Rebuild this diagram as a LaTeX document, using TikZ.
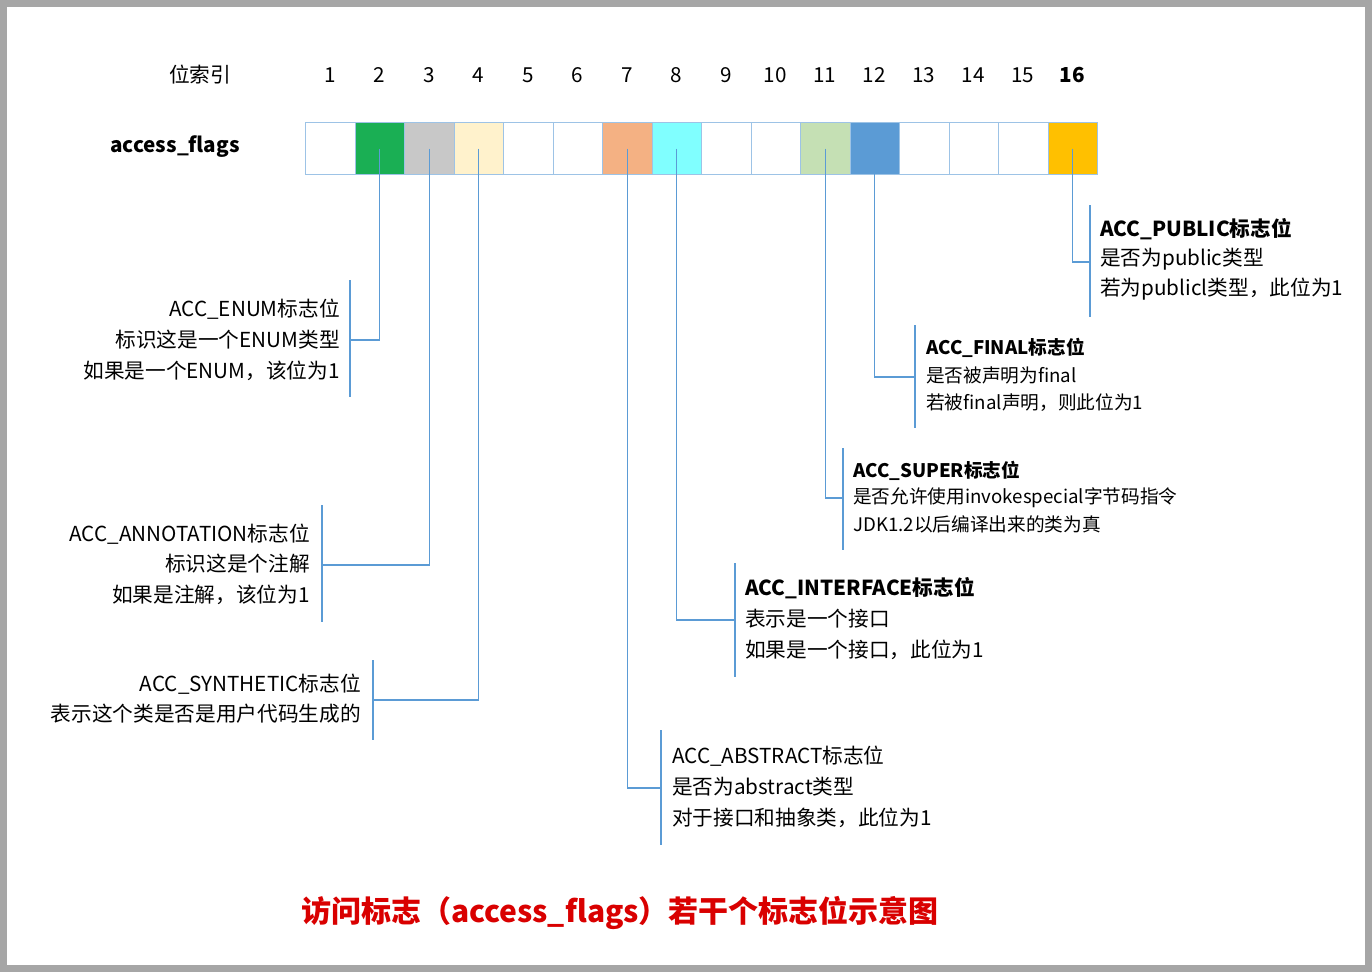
\documentclass[tikz,border=0pt]{standalone}
\usepackage{fontspec}
\setmainfont{Noto Sans CJK SC}
\definecolor{ln}{HTML}{5B9BD5}
\definecolor{cb}{HTML}{9DC3E6}
\begin{document}
\begin{tikzpicture}[x=0.75pt,y=-0.75pt,
  cell/.style={draw=cb,line width=0.8pt,minimum width=49.5*0.75pt,minimum height=52*0.75pt,inner sep=0pt,anchor=north west},
  lbl/.style={font=\fontsize{15.5}{16}\selectfont,inner sep=0pt},
  lblb/.style={font=\fontsize{15.5}{16}\selectfont\bfseries,inner sep=0pt},
  sm/.style={font=\fontsize{14}{15}\selectfont,inner sep=0pt},
  smb/.style={font=\fontsize{14}{15}\selectfont\bfseries,inner sep=0pt},
  conn/.style={draw=ln,line width=1pt}]
\fill[gray!70] (0,0) rectangle (1372,972);
\fill[white] (7,7) rectangle (1365,965);
\useasboundingbox (0,0) rectangle (1372,972);
\node[lbl] (hdr) at (200,75) {位索引};
\node[lblb] (af) at (175,147) {access\_flags};
\foreach \i/\c in {1/white,2/{rgb,255:red,26;green,175;blue,84},3/{rgb,255:red,200;green,200;blue,200},4/{rgb,255:red,255;green,242;blue,204},5/white,6/white,7/{rgb,255:red,244;green,177;blue,131},8/{rgb,255:red,128;green,255;blue,255},9/white,10/white,11/{rgb,255:red,197;green,224;blue,180},12/{rgb,255:red,91;green,155;blue,213},13/white,14/white,15/white,16/{rgb,255:red,255;green,192;blue,0}}{
  \node[cell,fill=\c] (c\i) at ({305+49.5*(\i-1)},122) {};
  \ifnum\i=16
    \node[lblb] (n\i) at ({305+49.5*(\i-0.5)},75) {\i};
  \else
    \node[lbl] (n\i) at ({305+49.5*(\i-0.5)},75) {\i};
  \fi
}
% ENUM
\coordinate (e1) at (350,280); \coordinate (e2) at (350,397); \coordinate (e3) at (350,340);
\draw[conn] (e1)--(e2); \draw[conn] (c2.center) |- (e3);
\node[lbl,anchor=east] (te) at (340,309) {ACC\_ENUM标志位};
\node[lbl,anchor=east] (te2) at (340,340) {标识这是一个ENUM类型};
\node[lbl,anchor=east] (te3) at (340,371) {如果是一个ENUM，该位为1};
% ANNOTATION
\coordinate (a1) at (322,505); \coordinate (a2) at (322,622); \coordinate (a3) at (322,565);
\draw[conn] (a1)--(a2); \draw[conn] (c3.center) |- (a3);
\node[lbl,anchor=east] (ta) at (310,534) {ACC\_ANNOTATION标志位};
\node[lbl,anchor=east] (ta2) at (310,564) {标识这是个注解};
\node[lbl,anchor=east] (ta3) at (310,595) {如果是注解，该位为1};
% SYNTHETIC
\coordinate (s1) at (373,660); \coordinate (s2) at (373,740); \coordinate (s3) at (373,700);
\draw[conn] (s1)--(s2); \draw[conn] (c4.center) |- (s3);
\node[lbl,anchor=east] (ts) at (361,684) {ACC\_SYNTHETIC标志位};
\node[lbl,anchor=east] (ts2) at (361,714) {表示这个类是否是用户代码生成的};
% ABSTRACT
\coordinate (b1) at (661,730); \coordinate (b2) at (661,845); \coordinate (b3) at (661,788);
\draw[conn] (b1)--(b2); \draw[conn] (c7.center) |- (b3);
\node[lbl,anchor=west] (tb) at (672,756) {ACC\_ABSTRACT标志位};
\node[lbl,anchor=west] (tb2) at (672,787) {是否为abstract类型};
\node[lbl,anchor=west] (tb3) at (672,818) {对于接口和抽象类，此位为1};
% INTERFACE
\coordinate (i1) at (735,563); \coordinate (i2) at (735,677); \coordinate (i3) at (735,620);
\draw[conn] (i1)--(i2); \draw[conn] (c8.center) |- (i3);
\node[lblb,anchor=west] (ti) at (745,588) {ACC\_INTERFACE标志位};
\node[lbl,anchor=west] (ti2) at (745,619) {表示是一个接口};
\node[lbl,anchor=west] (ti3) at (745,650) {如果是一个接口，此位为1};
% SUPER
\coordinate (u1) at (843,448); \coordinate (u2) at (843,550); \coordinate (u3) at (843,498);
\draw[conn] (u1)--(u2); \draw[conn] (c11.center) |- (u3);
\node[smb,anchor=west] (tu) at (853,471) {ACC\_SUPER标志位};
\node[sm,anchor=west] (tu2) at (853,498) {是否允许使用invokespecial字节码指令};
\node[sm,anchor=west] (tu3) at (853,524) {JDK1.2以后编译出来的类为真};
% FINAL
\coordinate (f1) at (915,325); \coordinate (f2) at (915,428); \coordinate (f3) at (915,377);
\draw[conn] (f1)--(f2); \draw[conn] (c12.center) |- (f3);
\node[smb,anchor=west] (tf) at (926,348) {ACC\_FINAL标志位};
\node[sm,anchor=west] (tf2) at (926,375) {是否被声明为final};
\node[sm,anchor=west] (tf3) at (926,403) {若被final声明，则此位为1};
% PUBLIC
\coordinate (p1) at (1090,205); \coordinate (p2) at (1090,317); \coordinate (p3) at (1090,262);
\draw[conn] (p1)--(p2); \draw[conn] (c16.center) |- (p3);
\node[lblb,anchor=west] (tp) at (1100,229) {ACC\_PUBLIC标志位};
\node[lbl,anchor=west] (tp2) at (1100,259) {是否为public类型};
\node[lbl,anchor=west] (tp3) at (1100,289) {若为publicl类型，此位为1};
% title
\node[inner sep=0pt,text=red!85!black,font=\fontsize{22.5}{24}\selectfont\bfseries] (title) at (620,913) {访问标志（access\_flags）若干个标志位示意图};
\end{tikzpicture}
\end{document}
